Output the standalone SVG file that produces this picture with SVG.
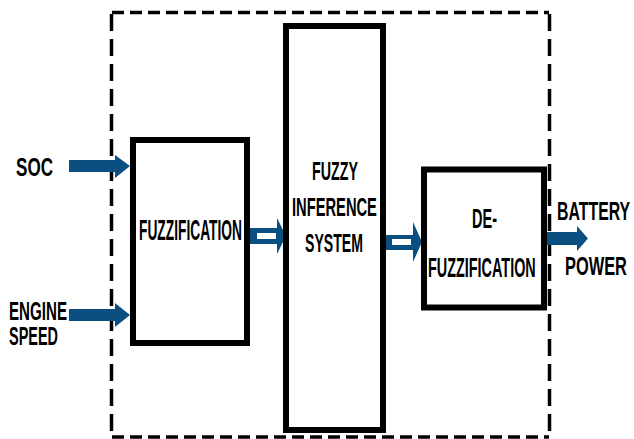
<svg xmlns="http://www.w3.org/2000/svg" width="634" height="439" viewBox="0 0 634 439">
  <style>
    .block { fill: #ffffff; stroke: #000000; stroke-width: 6; }
    .frame-h { stroke: #000000; stroke-width: 3.5; stroke-dasharray: 12 6; fill: none; }
    .frame-v { stroke: #000000; stroke-width: 3.5; stroke-dasharray: 17 8; fill: none; }
    .flow { fill: #0a4f80; }
    .slot { fill: #ffffff; }
    .label { font-family: "Liberation Sans", Arial, sans-serif; font-weight: bold; font-size: 25px; fill: #000000; }
    .big { font-size: 29px; }
    .mid { font-size: 27px; }
  </style>

  <rect width="634" height="439" fill="#ffffff"/>

  <!-- dashed controller boundary -->
  <g id="boundary">
    <line class="frame-h" x1="112" y1="12.5" x2="549" y2="12.5"/>
    <line class="frame-h" x1="112" y1="437" x2="549" y2="437"/>
    <line class="frame-v" x1="111.5" y1="14" x2="111.5" y2="437"/>
    <line class="frame-v" x1="549.5" y1="14" x2="549.5" y2="437"/>
  </g>

  <!-- connectors -->
  <g id="connectors">
    <!-- SOC input -->
    <polygon class="flow" points="69,160 115,160 115,155 130,166 115,178 115,172 69,172"/>
    <!-- engine speed input -->
    <polygon class="flow" points="69,309 115,309 115,303 130,315 115,327 115,321 69,321"/>
    <!-- fuzzification to inference (hollow) -->
    <polygon class="flow" points="250,228 277,228 277,218 286,236 277,254 277,244 250,244"/>
    <rect class="slot" x="257" y="233" width="19" height="6"/>
    <!-- inference to defuzzification (hollow) -->
    <polygon class="flow" points="386,235 413,235 413,222 422,242 413,262 413,250 386,250"/>
    <rect class="slot" x="392" y="239" width="19" height="6"/>
    <!-- output -->
    <polygon class="flow" points="545,232 577,232 577,226 588,238.5 577,251 577,245 545,245"/>
  </g>

  <g id="fuzzification">
    <rect class="block" x="133" y="140" width="114" height="203"/>
    <text class="label big" transform="translate(139 240) scale(0.475 1)">FUZZIFICATION</text>
  </g>

  <g id="inference">
    <rect class="block" x="286" y="26" width="97" height="404"/>
    <text class="label" transform="translate(312 180) scale(0.571 1)">FUZZY</text>
    <text class="label" transform="translate(292 216) scale(0.588 1)">INFERENCE</text>
    <text class="label" transform="translate(305 252) scale(0.564 1)">SYSTEM</text>
  </g>

  <g id="defuzzification">
    <rect class="block" x="424" y="169.5" width="120" height="138"/>
    <text class="label mid" transform="translate(472 228) scale(0.538 1)">DE-</text>
    <text class="label mid" transform="translate(428 277) scale(0.534 1)">FUZZIFICATION</text>
  </g>

  <g id="input-soc">
    <text class="label" transform="translate(16 176) scale(0.683 1)">SOC</text>
  </g>

  <g id="input-engine-speed">
    <text class="label" transform="translate(9 320) scale(0.605 1)">ENGINE</text>
    <text class="label" transform="translate(9 345) scale(0.578 1)">SPEED</text>
  </g>

  <g id="output-battery-power">
    <text class="label" transform="translate(557 220) scale(0.635 1)">BATTERY</text>
    <text class="label" transform="translate(565 275) scale(0.656 1)">POWER</text>
  </g>
</svg>
